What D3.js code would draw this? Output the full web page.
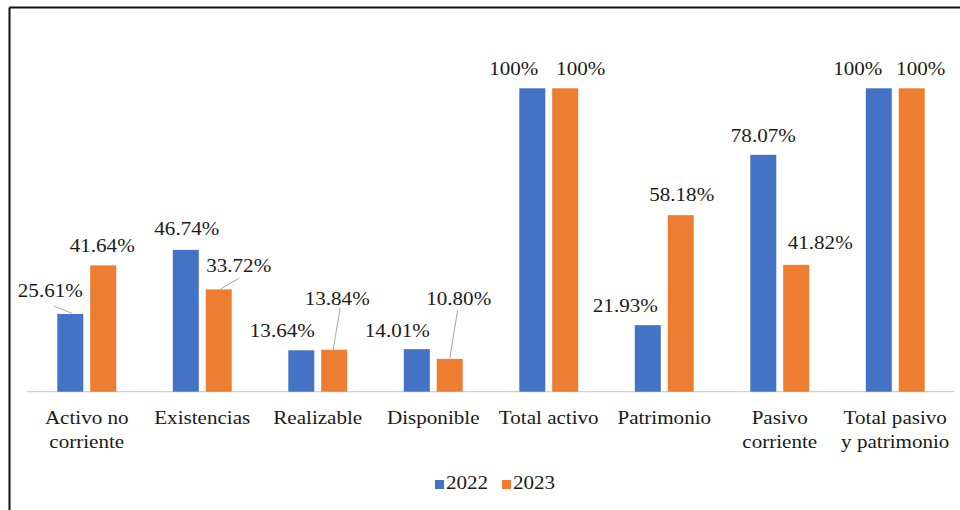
<!DOCTYPE html>
<html>
<head>
<meta charset="utf-8">
<script src="https://cdn.jsdelivr.net/npm/d3@7"></script>
<style>
  html, body { margin: 0; padding: 0; background: #fff; }
  svg { display: block; }
  svg text { font-family: "Liberation Serif", "Times New Roman", Tinos, "DejaVu Serif", serif; }
</style>
</head>
<body>
<svg id="chart" width="960" height="510"></svg>
<script>
// ---- Data ----
const categories = [
  ["Activo no", "corriente"],
  ["Existencias"],
  ["Realizable"],
  ["Disponible"],
  ["Total activo"],
  ["Patrimonio"],
  ["Pasivo", "corriente"],
  ["Total pasivo", "y patrimonio"]
];
const seriesNames = ["2022", "2023"];
const values2022 = [25.61, 46.74, 13.64, 14.01, 100, 21.93, 78.07, 100];
const values2023 = [41.64, 33.72, 13.84, 10.80, 100, 58.18, 41.82, 100];
const labels2022 = ["25.61%", "46.74%", "13.64%", "14.01%", "100%", "21.93%", "78.07%", "100%"];
const labels2023 = ["41.64%", "33.72%", "13.84%", "10.80%", "100%", "58.18%", "41.82%", "100%"];
const colors = ["#4472C4", "#ED7D31"];

// label nudges (layout only): [dx, dy, leader] ; leader = [startDx from bar centre, endDx from label, endDy from label] or null
const nudges2022 = [[-20, 4, [2, 3.5, 9]], [1, 2, null], [-19, 0, null], [-19.5, -1, null], [-18.5, 0, null], [-22.5, 0, null], [0, 0, null], [-21, 0, null]];
const nudges2023 = [[-1, 0, null], [20, 4, [2, 0, 6]], [3, 32, [-1, 3, 3]], [9, 41, [0, -1, 5]], [15.5, 0, null], [1, 1, null], [24, 3, null], [9, 0, null]];

// ---- Layout ----
const svg = d3.select("#chart");
const W = 960, H = 510;
const FS = 19, SX = 1.11;

// frame (only left and top visible)
svg.append("line").attr("x1", 9.5).attr("x2", 9.5).attr("y1", 7.5).attr("y2", H)
  .attr("stroke", "#111").attr("stroke-width", 2);
svg.append("line").attr("x1", 9.5).attr("x2", W).attr("y1", 7.5).attr("y2", 7.5)
  .attr("stroke", "#111").attr("stroke-width", 2);

const x0 = d3.scaleBand().domain(d3.range(categories.length)).range([29, 953]).paddingInner(0.49).paddingOuter(0.245);
const x1 = d3.scaleBand().domain(seriesNames).range([0, x0.bandwidth()]).paddingInner(0.21);
const y = d3.scaleLinear().domain([0, 100]).range([391.7, 88.3]);

function stext(g, x, yy, str, anchor) {
  return g.append("text")
    .attr("transform", `translate(${x},${yy}) scale(${SX},1)`)
    .attr("text-anchor", anchor || "middle")
    .attr("font-size", FS)
    .attr("fill", "#1a1a1a")
    .text(str);
}

// axis baseline
svg.append("line").attr("x1", 27).attr("x2", 954).attr("y1", y(0)).attr("y2", y(0))
  .attr("stroke", "#d0d0d0").attr("stroke-width", 1.2);

const series = [
  {name: "2022", vals: values2022, labs: labels2022, nud: nudges2022, color: colors[0]},
  {name: "2023", vals: values2023, labs: labels2023, nud: nudges2023, color: colors[1]}
];

const gBars = svg.append("g");
series.forEach(s => {
  s.vals.forEach((v, i) => {
    const bx = x0(i) + x1(s.name);
    gBars.append("rect")
      .attr("x", bx).attr("y", y(v))
      .attr("width", x1.bandwidth()).attr("height", y(0) - y(v))
      .attr("fill", s.color);
  });
});

// data labels
const gLab = svg.append("g");
series.forEach(s => {
  s.vals.forEach((v, i) => {
    const cx = x0(i) + x1(s.name) + x1.bandwidth() / 2;
    const top = y(v);
    const [dx, dy, lead] = s.nud[i];
    const lx = cx + dx, ly = top - 13 - dy;
    if (lead) {
      gLab.append("line")
        .attr("x1", cx + lead[0]).attr("y1", top - 0.5)
        .attr("x2", lx + lead[1]).attr("y2", ly + lead[2])
        .attr("stroke", "#a6a6a6").attr("stroke-width", 1);
    }
    stext(gLab, lx, ly, s.labs[i]);
  });
});

// category labels
const gCat = svg.append("g");
categories.forEach((lines, i) => {
  const cx = x0(i) + x0.bandwidth() / 2;
  lines.forEach((ln, k) => {
    stext(gCat, cx, 424 + k * 24, ln);
  });
});

// legend
const legendX = [435, 502];
series.forEach((s, k) => {
  svg.append("rect").attr("x", legendX[k]).attr("y", 480).attr("width", 9).attr("height", 9).attr("fill", s.color);
  stext(svg, legendX[k] + 11, 489, s.name, "start");
});
</script>
</body>
</html>
